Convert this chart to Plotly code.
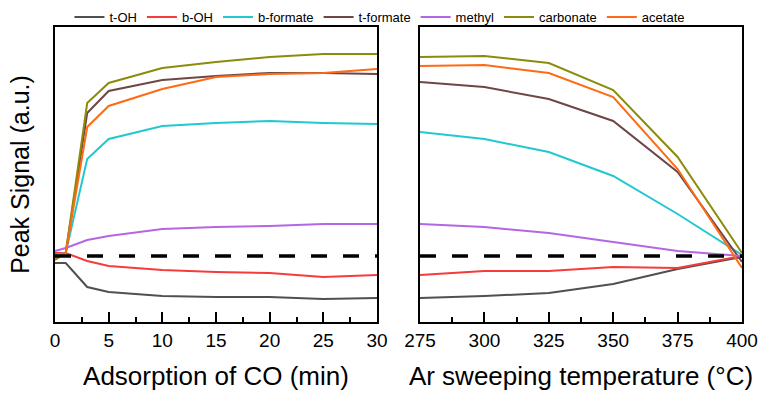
import plotly.graph_objects as go

# Adsorption time (min) and Ar sweeping temperature (°C)
time_min = [0, 1, 3, 5, 10, 15, 20, 25, 30]
temp_c = [275, 300, 325, 350, 375, 400]

species = ["t-OH", "b-OH", "b-formate", "t-formate", "methyl", "carbonate", "acetate"]
colors = ["#505050", "#f53c3c", "#22c8d0", "#6e4646", "#b466e4", "#8c8c0c", "#ff6a14"]

# Peak signal (a.u.) versus CO adsorption time
ads_t_oh = [-0.7, -0.7, -3.1, -3.6, -4.0, -4.1, -4.1, -4.3, -4.2]
ads_b_oh = [0.3, 0.3, -0.5, -1.0, -1.4, -1.6, -1.7, -2.1, -1.9]
ads_b_formate = [0.1, 0.3, 9.7, 11.7, 13.0, 13.3, 13.5, 13.3, 13.2]
ads_t_formate = [-0.2, 0.3, 14.3, 16.5, 17.6, 18.0, 18.3, 18.3, 18.2]
ads_methyl = [0.5, 0.8, 1.6, 2.0, 2.7, 2.9, 3.0, 3.2, 3.2]
ads_carbonate = [-0.4, 0.3, 15.3, 17.3, 18.8, 19.4, 19.9, 20.2, 20.2]
ads_acetate = [-0.2, 0.3, 12.9, 15.0, 16.7, 17.9, 18.2, 18.3, 18.7]

# Peak signal (a.u.) versus Ar sweeping temperature
ar_t_oh = [-4.2, -4.0, -3.7, -2.8, -1.3, -0.1]
ar_b_oh = [-1.9, -1.5, -1.5, -1.1, -1.2, 0.0]
ar_b_formate = [12.4, 11.7, 10.4, 8.0, 4.2, 0.1]
ar_t_formate = [17.4, 16.9, 15.7, 13.5, 8.4, -0.6]
ar_methyl = [3.2, 2.9, 2.3, 1.4, 0.5, 0.0]
ar_carbonate = [19.9, 20.0, 19.3, 16.6, 9.9, 0.3]
ar_acetate = [19.0, 19.1, 18.3, 15.9, 8.7, -1.2]

ads_series = [ads_t_oh, ads_b_oh, ads_b_formate, ads_t_formate, ads_methyl, ads_carbonate, ads_acetate]
ar_series = [ar_t_oh, ar_b_oh, ar_b_formate, ar_t_formate, ar_methyl, ar_carbonate, ar_acetate]

baseline = 0.0

fig = go.Figure()

for name, color, ys in zip(species, colors, ads_series):
    fig.add_trace(go.Scatter(x=time_min, y=ys, mode="lines", name=name,
                             line=dict(color=color, width=2), xaxis="x", yaxis="y"))
for name, color, ys in zip(species, colors, ar_series):
    fig.add_trace(go.Scatter(x=temp_c, y=ys, mode="lines", name=name, showlegend=False,
                             line=dict(color=color, width=2), xaxis="x2", yaxis="y2"))

# Dashed reference level in both panels
fig.add_trace(go.Scatter(x=[time_min[0], time_min[-1]], y=[baseline, baseline], mode="lines",
                         showlegend=False, line=dict(color="black", width=3.5, dash="16px,16px"),
                         xaxis="x", yaxis="y"))
fig.add_trace(go.Scatter(x=[temp_c[0], temp_c[-1]], y=[baseline, baseline], mode="lines",
                         showlegend=False, line=dict(color="black", width=3.5, dash="16px,16px"),
                         xaxis="x2", yaxis="y2"))

FONT = "Liberation Sans, Arial, sans-serif"
tick_font = dict(family=FONT, size=19, color="black")
title_font = dict(family=FONT, size=26, color="black")

common_x = dict(showline=True, linecolor="black", linewidth=2, mirror=True,
                ticks="inside", ticklen=10, tickwidth=2, tickcolor="black",
                showgrid=False, zeroline=False, tickfont=tick_font, automargin=False)
common_y = dict(showline=True, linecolor="black", linewidth=2, mirror=True,
                showticklabels=False, ticks="", showgrid=False, zeroline=False,
                range=[-6.6, 22.9], automargin=False)

fig.update_layout(
    width=761, height=396,
    margin=dict(l=55, r=19, t=27, b=74, autoexpand=False),
    paper_bgcolor="white", plot_bgcolor="white",
    xaxis=dict(domain=[0, 0.4687], range=[0, 30], dtick=5, tick0=0,
               minor=dict(dtick=2.5, ticks="inside", ticklen=5, tickwidth=2, tickcolor="black"),
               title=dict(text="Adsorption of CO (min)", font=title_font, standoff=17),
               **common_x),
    xaxis2=dict(domain=[0.5313, 1], range=[275, 400], dtick=25, tick0=275, anchor="y2",
                minor=dict(dtick=12.5, ticks="inside", ticklen=5, tickwidth=2, tickcolor="black"),
                title=dict(text="Ar sweeping temperature (°C)", font=title_font, standoff=17),
                **common_x),
    yaxis=dict(title=dict(text="Peak Signal (a.u.)", font=dict(family=FONT, size=25, color="black"), standoff=16),
               **common_y),
    yaxis2=dict(anchor="x2", **common_y),
    legend=dict(orientation="h", x=0.473, xanchor="center", y=1.034, yanchor="middle",
                font=dict(family=FONT, size=13, color="black"),
                bgcolor="rgba(0,0,0,0)", itemwidth=30, traceorder="normal"),
    showlegend=True,
)

fig.write_html("out.html")
